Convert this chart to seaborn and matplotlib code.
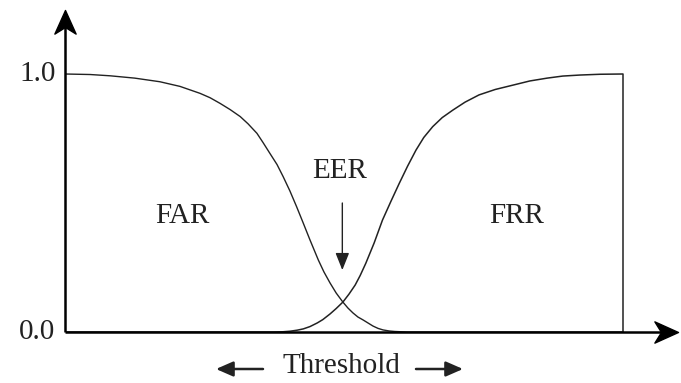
import numpy as np
import pandas as pd
import matplotlib
matplotlib.use("Agg")
import matplotlib.pyplot as plt
from matplotlib.path import Path
import seaborn as sns

# ---- data (normalised threshold 0..1, rate 0..1) ----
far_t = [0.000, 0.045, 0.081, 0.125, 0.170, 0.206, 0.242, 0.260, 0.278, 0.296,
         0.314, 0.328, 0.344, 0.355, 0.367, 0.380, 0.391, 0.403, 0.415, 0.427,
         0.439, 0.454, 0.464, 0.475, 0.486, 0.498, 0.507, 0.516, 0.525, 0.534,
         0.543, 0.552, 0.561, 0.570, 0.581, 0.591, 0.602, 0.613, 1.000]
far_v = [1.000, 0.998, 0.993, 0.984, 0.970, 0.952, 0.925, 0.908, 0.886, 0.862,
         0.835, 0.807, 0.770, 0.734, 0.693, 0.649, 0.602, 0.547, 0.486, 0.422,
         0.357, 0.279, 0.233, 0.190, 0.151, 0.116, 0.093, 0.074, 0.058, 0.047,
         0.035, 0.023, 0.014, 0.008, 0.004, 0.002, 0.001, 0.000, 0.000]

frr_t = [0.000, 0.376, 0.391, 0.403, 0.416, 0.427, 0.439, 0.452, 0.462, 0.475,
         0.486, 0.498, 0.509, 0.520, 0.529, 0.539, 0.554, 0.569, 0.584, 0.599,
         0.614, 0.629, 0.643, 0.659, 0.676, 0.695, 0.717, 0.742, 0.771, 0.803,
         0.833, 0.864, 0.892, 0.923, 0.959, 1.000, 1.000]
frr_v = [0.000, 0.000, 0.001, 0.003, 0.007, 0.012, 0.021, 0.035, 0.048, 0.070,
         0.091, 0.116, 0.147, 0.182, 0.219, 0.266, 0.345, 0.434, 0.506, 0.576,
         0.643, 0.705, 0.754, 0.796, 0.831, 0.860, 0.891, 0.919, 0.940, 0.957,
         0.973, 0.984, 0.992, 0.996, 0.999, 1.000, 0.000]

ytick_vals = [0.0, 1.0]
ytick_labels = ["0.0", "1.0"]
region_labels = ["FAR", "FRR"]
region_pos = [(0.21, 0.45), (0.81, 0.45)]
eer_label = "EER"
xlabel = "Threshold"

W, H = 681, 383
sns.set_theme(style="white")
plt.rcParams["font.family"] = ["Liberation Serif", "DejaVu Serif"]

fig = plt.figure(figsize=(W / 100, H / 100), dpi=100)
# axes: data x 0 -> px 65, 1 -> px 623 ; y 0 -> px 332, 1 -> px 74
x0, x1 = 65, 623
y0, y1 = 332, 74
xmax = (678 - x0) / (x1 - x0)
ymax = (y0 - 10) / (y0 - y1)
ax = fig.add_axes([x0 / W, (H - y0) / H, (678 - x0) / W, (y0 - 10) / H])
ax.set_xlim(0, xmax)
ax.set_ylim(0, ymax)
for s in ax.spines.values():
    s.set_visible(False)
ax.set_xticks([])
ax.set_yticks([])

sns.lineplot(x=far_t, y=far_v, sort=False, estimator=None, color="#222222",
             linewidth=1.0, ax=ax)
sns.lineplot(x=frr_t, y=frr_v, sort=False, estimator=None, color="#222222",
             linewidth=1.1, ax=ax)

# axis lines with arrowheads
ax.plot([0, 0], [0, ymax * 0.97], color="black", lw=1.8, clip_on=False, solid_capstyle="butt")
ax.plot([0, xmax * 0.98], [0, 0], color="black", lw=1.8, clip_on=False, solid_capstyle="butt")
up = Path([(0, 0), (-0.45, -1), (0, -0.72), (0.45, -1), (0, 0)],
          [Path.MOVETO, Path.LINETO, Path.LINETO, Path.LINETO, Path.CLOSEPOLY])
right = Path([(0, 0), (-1, 0.45), (-0.72, 0), (-1, -0.45), (0, 0)],
             [Path.MOVETO, Path.LINETO, Path.LINETO, Path.LINETO, Path.CLOSEPOLY])
ax.plot([0], [ymax], marker=up, markersize=34, color="black", clip_on=False, lw=0)
ax.plot([xmax], [0], marker=right, markersize=34, color="black", clip_on=False, lw=0)

FS = 21
# y tick labels
for v, lab in zip(ytick_vals, ytick_labels):
    ax.text(-0.017, v, lab, ha="right", va="center", fontsize=FS, color="#222222")

# region labels
for lab, (tx, ty) in zip(region_labels, region_pos):
    ax.text(tx, ty, lab, ha="center", va="center", fontsize=FS, color="#222222")

# EER label and arrow
ax.text(0.492, 0.625, eer_label, ha="center", va="center", fontsize=FS, color="#222222")
ax.annotate("", xy=(0.497, 0.24), xytext=(0.497, 0.50),
            arrowprops=dict(arrowstyle="-|>,head_length=0.7,head_width=0.28",
                            color="#222222", lw=1.0, mutation_scale=15,
                            shrinkA=0, shrinkB=0))

# Threshold label with arrows (figure pixel coords)
def fp(x, y):
    return (x / W, 1 - y / H)

fig.text(*fp(341, 366), xlabel, ha="center", va="center", fontsize=FS, color="#222222")
arrow_style = dict(arrowstyle="-|>,head_length=0.8,head_width=0.35",
                   color="#222222", lw=1.8, mutation_scale=13, shrinkA=0, shrinkB=0)
ax.annotate("", xy=fp(216, 369), xytext=fp(263, 369), xycoords="figure fraction",
            textcoords="figure fraction", arrowprops=arrow_style, annotation_clip=False)
ax.annotate("", xy=fp(463, 369), xytext=fp(416, 369), xycoords="figure fraction",
            textcoords="figure fraction", arrowprops=arrow_style, annotation_clip=False)

fig.savefig("out.png", dpi=100, facecolor="white")
